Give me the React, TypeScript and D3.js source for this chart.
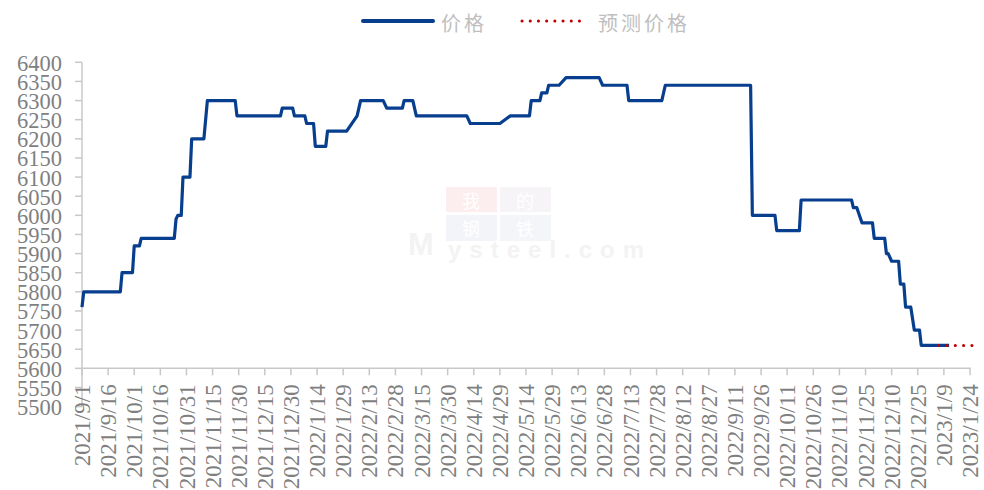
import * as d3 from "d3";

// 价格 (step changes)
const priceDates = [
  "2021/9/1", "2021/9/2", "2021/9/23", "2021/9/24", "2021/9/30", "2021/10/1", "2021/10/4", "2021/10/5",
  "2021/10/24", "2021/10/25", "2021/10/26", "2021/10/28", "2021/10/29", "2021/11/2", "2021/11/3", "2021/11/10",
  "2021/11/12", "2021/11/28", "2021/11/29", "2021/12/24", "2021/12/25", "2021/12/31", "2022/1/1", "2022/1/7",
  "2022/1/8", "2022/1/12", "2022/1/13", "2022/1/19", "2022/1/20", "2022/1/31", "2022/2/6", "2022/2/8",
  "2022/2/21", "2022/2/23", "2022/3/4", "2022/3/5", "2022/3/10", "2022/3/12", "2022/4/10", "2022/4/12",
  "2022/4/29", "2022/5/5", "2022/5/16", "2022/5/17", "2022/5/22", "2022/5/23", "2022/5/26", "2022/5/27",
  "2022/6/2", "2022/6/6", "2022/6/25", "2022/6/27", "2022/7/11", "2022/7/12", "2022/7/31", "2022/8/2",
  "2022/9/20", "2022/9/21", "2022/10/4", "2022/10/5", "2022/10/18", "2022/10/19", "2022/11/17", "2022/11/18",
  "2022/11/20", "2022/11/23", "2022/11/29", "2022/11/30", "2022/12/6", "2022/12/7", "2022/12/8", "2022/12/10",
  "2022/12/14", "2022/12/15", "2022/12/17", "2022/12/18", "2022/12/21", "2022/12/23", "2022/12/26", "2022/12/27",
  "2023/1/12",
];
const priceValues = [
  5760, 5800, 5800, 5850, 5850, 5920, 5920, 5940,
  5940, 5990, 6000, 6000, 6100, 6100, 6200, 6200,
  6300, 6300, 6260, 6260, 6280, 6280, 6260, 6260,
  6240, 6240, 6180, 6180, 6220, 6220, 6260, 6300,
  6300, 6280, 6280, 6300, 6300, 6260, 6260, 6240,
  6240, 6260, 6260, 6300, 6300, 6320, 6320, 6340,
  6340, 6360, 6360, 6340, 6340, 6300, 6300, 6340,
  6340, 6000, 6000, 5960, 5960, 6040, 6040, 6020,
  6020, 5980, 5980, 5940, 5940, 5900, 5900, 5880,
  5880, 5820, 5820, 5760, 5760, 5700, 5700, 5660,
  5660,
];

// 预测价格
const forecastDates = ["2023/1/6", "2023/1/27"];
const forecastValues = [5660, 5660];

const xTickLabels = [
  "2021/9/1", "2021/9/16", "2021/10/1", "2021/10/16", "2021/10/31", "2021/11/15", "2021/11/30",
  "2021/12/15", "2021/12/30", "2022/1/14", "2022/1/29", "2022/2/13", "2022/2/28", "2022/3/15",
  "2022/3/30", "2022/4/14", "2022/4/29", "2022/5/14", "2022/5/29", "2022/6/13", "2022/6/28",
  "2022/7/13", "2022/7/28", "2022/8/12", "2022/8/27", "2022/9/11", "2022/9/26", "2022/10/11",
  "2022/10/26", "2022/11/10", "2022/11/25", "2022/12/10", "2022/12/25", "2023/1/9", "2023/1/24",
];
const yTicks = d3.range(5500, 6401, 50);

const parse = d3.utcParse("%Y/%m/%d");

const App = () => {
  const width = 984;
  const height = 490;
  const left = 82;
  const right = 970;

  const x = d3
    .scaleUtc()
    .domain([parse(xTickLabels[0])!, parse(xTickLabels[xTickLabels.length - 1])!])
    .range([left, right]);
  const y = d3.scaleLinear().domain([5500, 6400]).range([406.6, 62.3]);
  const axisY = y(5600);

  const line = d3
    .line<[string, number]>()
    .x((d) => x(parse(d[0])!))
    .y((d) => y(d[1]));

  const price = priceDates.map((d, i) => [d, priceValues[i]] as [string, number]);
  const forecast = forecastDates.map((d, i) => [d, forecastValues[i]] as [string, number]);

  const axisColor = "#C8C8C8";
  const labelColor = "#7F7F7F";
  const blue = "#073E8D";
  const red = "#C00000";

  return (
    <svg
      width={width}
      height={height}
      style={{ position: "fixed", left: 0, top: 0, background: "#fff" }}
    >
      {/* watermark */}
      <g>
        <rect x={446} y={187} width={51} height={25} fill="#FCEEEE" />
        <rect x={500} y={187} width={51} height={25} fill="#F7F4F7" />
        <rect x={446} y={215} width={51} height={26} fill="#F2F4F9" />
        <rect x={500} y={215} width={51} height={26} fill="#F4F5F9" />
        {["我", "的", "钢", "铁"].map((c, i) => (
          <text
            key={c}
            x={471 + (i % 2) * 54}
            y={200 + Math.floor(i / 2) * 28}
            textAnchor="middle"
            dominantBaseline="central"
            fontFamily="Noto Sans CJK SC"
            fontSize={18}
            fill="#fff"
          >
            {c}
          </text>
        ))}
        <text x={408} y={255} fontFamily="Liberation Sans" fontWeight="bold" fontSize={31} fill="#F3F3F3">
          M
        </text>
        <text
          x={448}
          y={258}
          fontFamily="Liberation Sans"
          fontWeight="bold"
          fontSize={24}
          letterSpacing={8}
          fill="#F3F3F3"
        >
          ysteel.com
        </text>
      </g>

      {/* y axis */}
      <line x1={left} x2={left} y1={y(6400)} y2={y(5500)} stroke={axisColor} strokeWidth={1.5} />
      {yTicks.map((v) => (
        <g key={v}>
          <line x1={left - 7} x2={left} y1={y(v)} y2={y(v)} stroke={axisColor} strokeWidth={1.5} />
          <text
            x={62}
            y={y(v) + 8.5}
            textAnchor="end"
            fontFamily="Liberation Serif"
            fontSize={22.5}
            fill={labelColor}
          >
            {v}
          </text>
        </g>
      ))}

      {/* x axis */}
      <line x1={left} x2={right + 1} y1={axisY} y2={axisY} stroke={axisColor} strokeWidth={1.5} />
      {xTickLabels.map((t) => {
        const px = x(parse(t)!);
        return (
          <g key={t}>
            <line x1={px} x2={px} y1={axisY} y2={axisY + 7} stroke={axisColor} strokeWidth={1.5} />
            <text
              transform={`translate(${px},${axisY + 16}) rotate(-90)`}
              textAnchor="end"
              dy="0.35em"
              fontFamily="Liberation Serif"
              fontSize={23}
              fill={labelColor}
            >
              {t}
            </text>
          </g>
        );
      })}

      {/* series */}
      <path d={line(price)!} fill="none" stroke={blue} strokeWidth={3.2} strokeLinejoin="round" />
      <path
        d={line(forecast)!}
        fill="none"
        stroke={red}
        strokeWidth={3}
        strokeLinecap="round"
        strokeDasharray="0.1 8.2"
      />

      {/* legend */}
      <line x1={363} x2={433} y1={21} y2={21} stroke={blue} strokeWidth={4} strokeLinecap="round" />
      <text x={441} y={22} dominantBaseline="central" fontFamily="Noto Sans CJK SC" fontSize={20} letterSpacing={3} fill="#BFBFBF">
        价格
      </text>
      <line
        x1={522}
        x2={587}
        y1={21}
        y2={21}
        stroke={red}
        strokeWidth={3}
        strokeLinecap="round"
        strokeDasharray="0.1 8.1"
      />
      <text x={598} y={22} dominantBaseline="central" fontFamily="Noto Sans CJK SC" fontSize={20} letterSpacing={3} fill="#BFBFBF">
        预测价格
      </text>
    </svg>
  );
};

export default App;
